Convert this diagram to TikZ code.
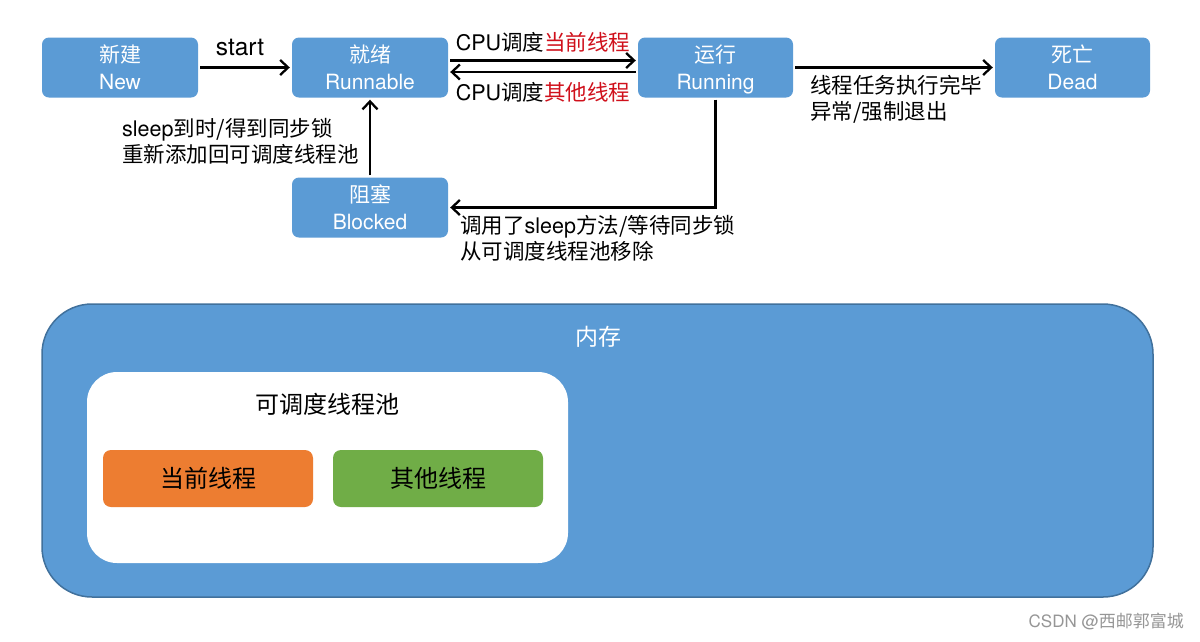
\documentclass[tikz,border=0pt]{standalone}
\usepackage{fontspec}
\setmainfont{TeX Gyre Heros}
\newfontfamily\cjkfont{Noto Sans CJK SC}
\newcommand\zh[1]{{\cjkfont #1}}
\newcommand\topstrut{\rule{0pt}{24.9pt}}
\usetikzlibrary{arrows.meta}
\definecolor{boxblue}{RGB}{91,155,213}
\definecolor{boxedge}{RGB}{65,113,156}
\definecolor{orangebox}{RGB}{237,125,49}
\definecolor{greenbox}{RGB}{112,173,71}
\definecolor{redtxt}{RGB}{208,16,27}
\definecolor{marktxt}{RGB}{150,150,150}
\tikzset{
  statebox/.style={fill=boxblue, rounded corners=7pt, minimum width=156pt, minimum height=59pt,
    text=white, align=center, inner sep=0pt, font=\fontsize{21}{27}\selectfont},
  arr/.style={line width=2.3pt, shorten >=2pt, shorten <=2pt, -{Straight Barb[length=8pt,width=15pt]}},
  lbl/.style={font=\fontsize{21.5}{26}\selectfont, text=black, inner sep=0pt, align=left},
  threadbox/.style={rounded corners=8pt, minimum width=210pt, minimum height=57pt,
    inner sep=0pt, font=\cjkfont\fontsize{24}{28}\selectfont}
}
\begin{document}
\begin{tikzpicture}[x=1pt,y=-1pt]
\useasboundingbox[fill=white] (0,0) rectangle (1200,641);
% memory area
\node[draw=boxedge, line width=1.5pt, fill=boxblue, rounded corners=50pt,
  minimum width=1111pt, minimum height=293pt, inner sep=0pt] (mem) at (597.5,450.5) {};
\node[text=white, font=\cjkfont\fontsize{23}{26}\selectfont, inner sep=0pt] (memt) at (598,337) {内存};
\node[fill=white, rounded corners=30pt, minimum width=481pt, minimum height=191pt, inner sep=0pt] (pool) at (327.5,467.5) {};
\node[font=\cjkfont\fontsize{24}{28}\selectfont, inner sep=0pt] (poolt) at (327,404) {可调度线程池};
\node[threadbox, fill=orangebox] (cur) at (208,478.5) {当前线程};
\node[threadbox, fill=greenbox] (oth) at (438,478.5) {其他线程};
% states
\node[statebox] (new) at (120,67.5) {\zh{新建}\topstrut\\New\strut};
\node[statebox] (rnbl) at (370,67.5) {\zh{就绪}\topstrut\\Runnable\strut};
\node[statebox, minimum width=155pt] (runn) at (715.5,67.5) {\zh{运行}\topstrut\\Running\strut};
\node[statebox, minimum width=155pt] (dead) at (1072.5,67.5) {\zh{死亡}\topstrut\\Dead\strut};
\node[statebox] (blk) at (370,207.5) {\zh{阻塞}\topstrut\\Blocked\strut};
% arrows
\draw[arr] (new.east) -- (rnbl.west);
\node[lbl, font=\fontsize{24.5}{28}\selectfont] (lstart) at (240,47) {start};
\draw[arr] ([yshift=7pt]rnbl.east) -- ([yshift=7pt]runn.west);
\draw[arr] ([yshift=-4.5pt]runn.west) -- ([yshift=-4.5pt]rnbl.east);
\node[lbl] (lcpu1) at (543,42) {CPU\zh{调度}\textcolor{redtxt}{\zh{当前线程}}};
\node[lbl] (lcpu2) at (543,92) {CPU\zh{调度}\textcolor{redtxt}{\zh{其他线程}}};
\draw[arr] (runn.east) -- (dead.west);
\node[lbl, anchor=north west] (ldead) at (810,75) {\zh{线程任务执行完毕}\\\zh{异常/强制退出}};
\draw[arr] (runn.south) -- (runn.south |- blk.east) -- (blk.east);
\node[lbl, anchor=north west] (lblk) at (460,215) {\zh{调用了}sleep\zh{方法/等待同步锁}\\\zh{从可调度线程池移除}};
\draw[arr] (blk.north) -- (rnbl.south);
\node[lbl, anchor=north west] (lwake) at (122,118) {sleep\zh{到时/得到同步锁}\\\zh{重新添加回可调度线程池}};
% watermark
\node[text=marktxt, font=\fontsize{17}{20}\selectfont, anchor=east, inner sep=0pt] (wm) at (1184,621) {CSDN @\zh{西邮郭富城}};
\end{tikzpicture}
\end{document}
